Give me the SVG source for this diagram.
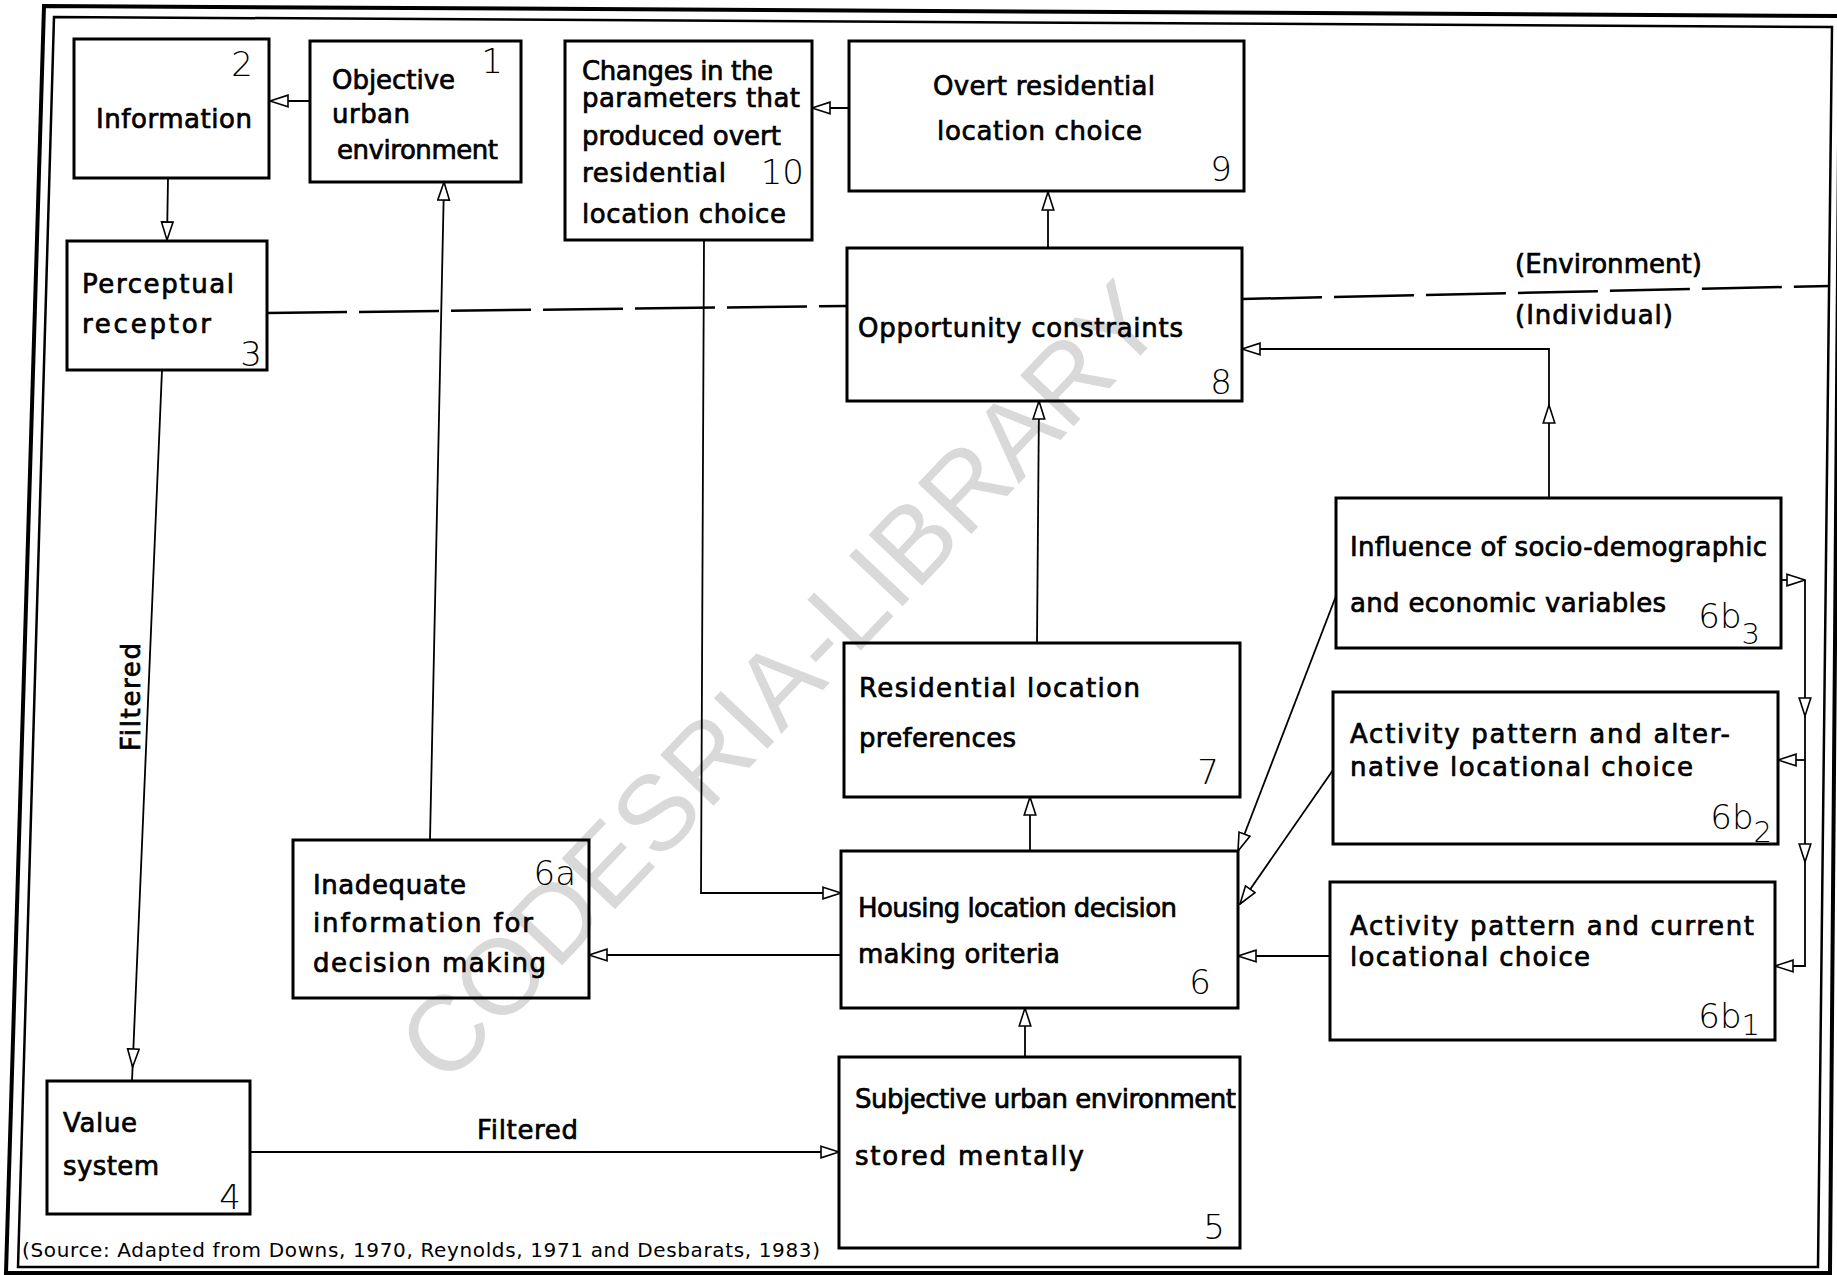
<svg xmlns="http://www.w3.org/2000/svg" width="1837" height="1275" viewBox="0 0 1837 1275">
<defs>
<style>
.box{fill:none;stroke:#000;stroke-width:3}
.t{font-family:"DejaVu Sans","Liberation Sans",sans-serif;font-size:26px;fill:#000;stroke:#000;stroke-width:0.7}
.n{font-family:"DejaVu Sans","Liberation Sans",sans-serif;font-weight:200;font-size:34px;fill:#000;text-anchor:end}
.c{fill:none;stroke:#000;stroke-width:1.8}
.d{fill:none;stroke:#000;stroke-width:2.5;stroke-dasharray:80 12}
.src{font-family:"DejaVu Sans","Liberation Sans",sans-serif;font-size:20px;fill:#000}
.wm{font-family:"Liberation Sans",Arial,sans-serif;font-size:107px;fill:#d9d9d9}
</style>
<marker id="a" markerUnits="userSpaceOnUse" markerWidth="20" markerHeight="14" viewBox="0 0 20 14" refX="19" refY="7" orient="auto">
<path d="M1,1.2 L19,7 L1,12.8 Z" fill="#fff" stroke="#000" stroke-width="1.6"/>
</marker>
</defs>
<rect x="0" y="0" width="1837" height="1275" fill="#fff"/>
<g id="watermark">
<text class="wm" x="807" y="707" text-anchor="middle" transform="rotate(-46.5 807 707)">CODESRIA-LIBRARY</text>
</g>
<g id="frame">
<polygon points="44,6 1840,16 1830,1273 6,1273" fill="none" stroke="#000" stroke-width="4"/>
<polygon points="54,17 1832,27 1818,1267 18,1267" fill="none" stroke="#000" stroke-width="2.5"/>
</g>
<g id="connectors">
<path class="c" d="M310,101 L270,101" marker-end="url(#a)"/>
<path class="c" d="M168,178 L167,240" marker-end="url(#a)"/>
<path class="c" d="M162,370 L132.6,1067" marker-end="url(#a)"/>
<path class="c" d="M132.6,1067 L132,1081"/>
<path class="c" d="M250,1152 L839,1152" marker-end="url(#a)"/>
<path class="c" d="M1025,1057 L1025,1008" marker-end="url(#a)"/>
<path class="c" d="M1030,851 L1030,797" marker-end="url(#a)"/>
<path class="c" d="M1037,643 L1039,401" marker-end="url(#a)"/>
<path class="c" d="M1048,248 L1048,192" marker-end="url(#a)"/>
<path class="c" d="M849,108 L812,108" marker-end="url(#a)"/>
<path class="c" d="M704,240 L701,893 L841,893" marker-end="url(#a)"/>
<path class="c" d="M841,955 L589,955" marker-end="url(#a)"/>
<path class="c" d="M430,840 L444,182" marker-end="url(#a)"/>
<path class="c" d="M1549,498 L1549,405" marker-end="url(#a)"/>
<path class="c" d="M1549,405 L1549,349 L1242,349" marker-end="url(#a)"/>
<path class="c" d="M1336,596 L1238,851" marker-end="url(#a)"/>
<path class="c" d="M1333,770 L1240,904" marker-end="url(#a)"/>
<path class="c" d="M1330,956 L1238,956" marker-end="url(#a)"/>
<path class="c" d="M1781,580 L1805,580" marker-end="url(#a)"/>
<path class="c" d="M1805,580 L1805,716" marker-end="url(#a)"/>
<path class="c" d="M1805,716 L1805,862" marker-end="url(#a)"/>
<path class="c" d="M1805,862 L1805,966 L1775,966" marker-end="url(#a)"/>
<path class="c" d="M1805,760 L1778,760" marker-end="url(#a)"/>
<path class="d" d="M267,313 L847,306"/>
<path class="d" d="M1242,299 L1830,286"/>
<text class="t" x="477" y="1139" textLength="101" lengthAdjust="spacing">Filtered</text>
<text class="t" text-anchor="middle" transform="translate(140,697) rotate(-90)" textLength="108" lengthAdjust="spacing">Filtered</text>
<text class="t" x="1515" y="273" textLength="187" lengthAdjust="spacing">(Environment)</text>
<text class="t" x="1515" y="324" textLength="158" lengthAdjust="spacing">(Individual)</text>
</g>
<g id="n2">
<rect class="box" x="74" y="39" width="195" height="139"/>
<text class="t" x="96" y="128" textLength="156" lengthAdjust="spacing">Information</text>
<text class="n" x="253" y="76">2</text>
</g>
<g id="n1">
<rect class="box" x="310" y="41" width="211" height="141"/>
<text class="t" x="332" y="89" textLength="123" lengthAdjust="spacing">Objective</text>
<text class="t" x="332" y="123" textLength="78" lengthAdjust="spacing">urban</text>
<text class="t" x="337" y="159" textLength="161" lengthAdjust="spacing">environment</text>
<text class="n" x="503" y="73">1</text>
</g>
<g id="n10">
<rect class="box" x="565" y="41" width="247" height="199"/>
<text class="t" x="582" y="80" textLength="191" lengthAdjust="spacing">Changes in the</text>
<text class="t" x="582" y="107" textLength="218" lengthAdjust="spacing">parameters that</text>
<text class="t" x="582" y="145" textLength="199" lengthAdjust="spacing">produced overt</text>
<text class="t" x="582" y="182" textLength="144" lengthAdjust="spacing">residential</text>
<text class="t" x="582" y="223" textLength="204" lengthAdjust="spacing">location choice</text>
<text class="n" x="804" y="184">10</text>
</g>
<g id="n9">
<rect class="box" x="849" y="41" width="395" height="150"/>
<text class="t" x="933" y="95" textLength="222" lengthAdjust="spacing">Overt residential</text>
<text class="t" x="937" y="140" textLength="205" lengthAdjust="spacing">location choice</text>
<text class="n" x="1232" y="181">9</text>
</g>
<g id="n3">
<rect class="box" x="67" y="241" width="200" height="129"/>
<text class="t" x="82" y="293" textLength="152" lengthAdjust="spacing">Perceptual</text>
<text class="t" x="82" y="333" textLength="129" lengthAdjust="spacing">receptor</text>
<text class="n" x="262" y="366">3</text>
</g>
<g id="n8">
<rect class="box" x="847" y="248" width="395" height="153"/>
<text class="t" x="858" y="337" textLength="325" lengthAdjust="spacing">Opportunity constraints</text>
<text class="n" x="1232" y="394">8</text>
</g>
<g id="n6b3">
<rect class="box" x="1336" y="498" width="445" height="150"/>
<text class="t" x="1350" y="556" textLength="417" lengthAdjust="spacing">Influence of socio-demographic</text>
<text class="t" x="1350" y="612" textLength="316" lengthAdjust="spacing">and economic variables</text>
<text class="n" x="1760" y="628">6b<tspan font-size="29" dy="16">3</tspan></text>
</g>
<g id="n7">
<rect class="box" x="844" y="643" width="396" height="154"/>
<text class="t" x="859" y="697" textLength="281" lengthAdjust="spacing">Residential location</text>
<text class="t" x="859" y="747" textLength="157" lengthAdjust="spacing">preferences</text>
<text class="n" x="1219" y="784">7</text>
</g>
<g id="n6b2">
<rect class="box" x="1333" y="692" width="445" height="152"/>
<text class="t" x="1350" y="743" textLength="380" lengthAdjust="spacing">Activity pattern and alter-</text>
<text class="t" x="1350" y="776" textLength="343" lengthAdjust="spacing">native locational choice</text>
<text class="n" x="1772" y="829">6b<tspan font-size="29" dy="13">2</tspan></text>
</g>
<g id="n6a">
<rect class="box" x="293" y="840" width="296" height="158"/>
<text class="t" x="313" y="894" textLength="153" lengthAdjust="spacing">Inadequate</text>
<text class="t" x="313" y="932" textLength="220" lengthAdjust="spacing">information for</text>
<text class="t" x="313" y="972" textLength="233" lengthAdjust="spacing">decision making</text>
<text class="n" x="576" y="885">6a</text>
</g>
<g id="n6">
<rect class="box" x="841" y="851" width="397" height="157"/>
<text class="t" x="858" y="917" textLength="319" lengthAdjust="spacing">Housing location decision</text>
<text class="t" x="858" y="963" textLength="202" lengthAdjust="spacing">making oriteria</text>
<text class="n" x="1211" y="994">6</text>
</g>
<g id="n6b1">
<rect class="box" x="1330" y="882" width="445" height="158"/>
<text class="t" x="1350" y="935" textLength="404" lengthAdjust="spacing">Activity pattern and current</text>
<text class="t" x="1350" y="966" textLength="240" lengthAdjust="spacing">locational choice</text>
<text class="n" x="1760" y="1028">6b<tspan font-size="29" dy="7">1</tspan></text>
</g>
<g id="n4">
<rect class="box" x="47" y="1081" width="203" height="133"/>
<text class="t" x="63" y="1132" textLength="74" lengthAdjust="spacing">Value</text>
<text class="t" x="63" y="1175" textLength="96" lengthAdjust="spacing">system</text>
<text class="n" x="241" y="1209">4</text>
</g>
<g id="n5">
<rect class="box" x="839" y="1057" width="401" height="191"/>
<text class="t" x="855" y="1108" textLength="381" lengthAdjust="spacing">Subjective urban environment</text>
<text class="t" x="855" y="1165" textLength="229" lengthAdjust="spacing">stored mentally</text>
<text class="n" x="1225" y="1239">5</text>
</g>
<g id="source">
<text class="src" x="22" y="1257" textLength="798" lengthAdjust="spacing">(Source: Adapted from Downs, 1970, Reynolds, 1971 and Desbarats, 1983)</text>
</g>
</svg>
